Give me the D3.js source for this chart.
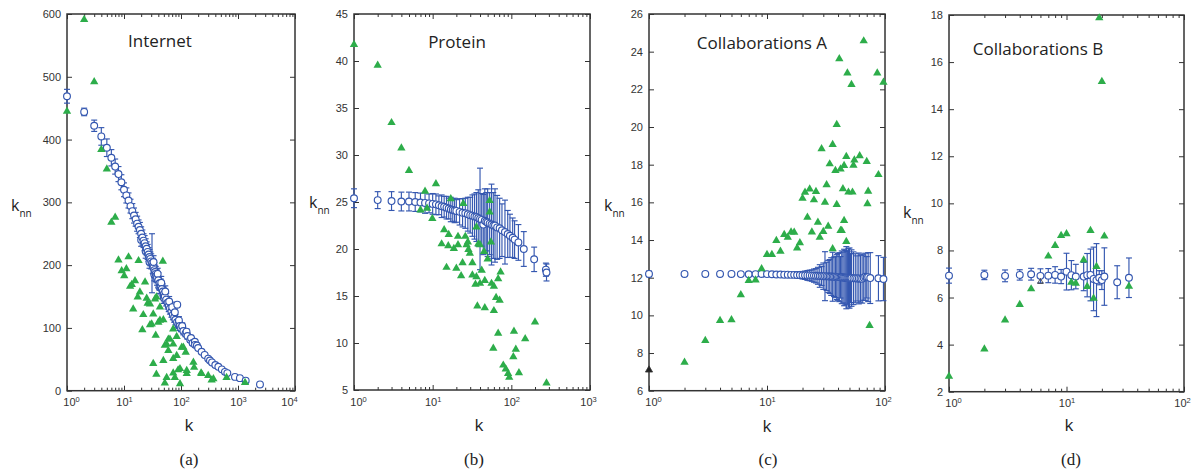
<!DOCTYPE html>
<html><head><meta charset="utf-8">
<script src="https://cdn.jsdelivr.net/npm/d3@7"></script>
<style>body{margin:0;background:#fff}svg{display:block}</style>
</head><body><svg id="c" width="1197" height="471"></svg>
<script>
// ---------- DATA ----------
// [k, knn, error]
const internetCircles = [
[1,469,11],[2,444,6],[3,422,9],[4,405,14],[5,387,14],[6,371,13],[7,357,12],[8,345,12],[9,332,12],[10,320,11],
[11,311,12],[12,303,12],[13,294,11],[14,286,12],[15,279,12],[16,273,11],[17,266,12],[18,261,11],[19,256,12],[20,250,11],
[20,240,10],[21,244,12],[22,239,11],[23,235,12],[24,230,12],[24,222,11],[25,226,11],[26,221,12],[27,217,11],[28,213,12],[28,205,10],[29,210,11],[30,206,12],
[31,203,47],[32,199,12],[33,196,11],[33,205,10],[34,192,12],[34,185,10],[35,189,11],[36,186,12],[37,183,11],[38,180,12],[39,186,9],[40,176,12],[42,171,11],[42,165,10],
[44,166,12],[45,172,10],[46,162,11],[48,158,12],[50,154,11],[50,148,9],[52,150,10],[53,158,9],[55,145,10],[58,140,10],[61,135,9],[62,142,8],[64,131,9],[68,126,9],
[70,133,8],[72,121,8],[76,117,8],[78,125,7],[80,113,8],[85,109,8],[86,137,0],[90,106,7],[92,112,6],[95,103,7],[100,100,6],[105,103,5],[110,95,6],[120,91,5],[125,94,4],[130,87,5],
[145,81,4],[150,84,4],[160,76,4],[175,78,3],[176,73,3],[190,72,3],[200,68,3],[230,62,0],[260,57,0],[300,51,0],[322,48,0],[350,45,0],[400,41,0],[452,38,0],
[520,34,0],[590,30,0],[650,28,0],[885,22,0],[1080,20,0],[1365,16,0],[2430,10,0]];
// [k, knn]
const internetTriangles = [
[1,446],[2,592],[3,493],[4,385],[5,354],[6,269],[7,277],[8,209],[9.1,192],[10.1,184],[11,195],[12,214],[12.8,167],[13.7,170],
[14.5,131],[15.6,176],[17.4,150],[18,208],[19,158],[21,98],[21.8,122],[23.4,174],[25,148],[26,140],[28.6,139],[28.6,106],
[30.6,107],[32.6,123],[32.6,44],[35,147],[36,89],[37,150],[37,27],[40,110],[42.7,134],[42.7,113],[48,207],[49,114],[49,49],
[52,73],[52,13],[56,75],[56,22],[60,83],[60,65],[64,83],[73,99],[73,75],[73,52],[73,29],[78,22],[84,87],[84,57],[89,34],
[96,36],[96,12],[103,70],[110,70],[121,62],[126,33],[126,28],[165,46],[170,38],[225,29],[230,28],[300,25],[345,18],[370,20],
[630,22],[1330,14]];

const proteinCircles = [
[1,25.4,1.0],[2,25.2,0.9],[3,25.1,1.0],[4,25.05,1.0],[5,25.05,1.0],[6,25.0,1.0],[7,24.95,1.0],[8,24.9,1.1],[9,24.85,1.0],[10,24.8,1.1],
[11,24.75,1.1],[12,24.65,1.0],[13,24.55,1.2],[14,24.5,1.1],[15,24.4,1.2],[16,24.3,1.1],[17,24.2,1.3],[18,24.15,1.2],[19,24.1,1.3],[20,24.05,1.2],
[22,23.95,1.4],[24,23.85,1.5],[26,23.8,1.6],[28,23.7,1.8],[30,23.6,1.9],[32,23.55,2.2],[34,23.45,2.4],[36,23.4,2.6],[38,23.3,3.0],[40,23.2,5.4],
[42,23.1,2.8],[44,22.6,3.2],[46,23.0,3.4],[48,22.9,3.1],[50,22.8,3.6],[53,22.7,3.3],[56,22.6,4.3],[59,22.5,3.5],[62,22.5,3.9],[66,22.3,3.4],
[71,22.2,3.2],[76,22.0,2.8],[83,21.8,3.4],[90,21.6,2.5],[96,21.4,2.3],[104,21.2,2.1],[110,21.0,2.0],[123,20.7,1.9],[144,20.0,1.85],
[195,18.9,1.3],[275,17.8,0.7],[280,17.5,0.9]];
const proteinTriangles = [
[1,41.8],[2,39.6],[3,33.5],[4,30.8],[5,28.4],[7,24.2],[8,26.2],[8.5,24.4],[9.9,23.3],[11,27.0],[13,20.6],[14,22.1],[15,18.1],
[15.8,20.4],[16,21.6],[17,25.4],[18.6,20.1],[20,18.0],[21,21.4],[21,20.5],[23,17.2],[24.5,24.9],[24,18.6],[26,21.4],[27,20.5],
[28,20.8],[28.5,20.0],[29.7,19.6],[32,17.3],[32,18.6],[35,16.3],[36,17.1],[36,22.4],[37,14.0],[38,20.6],[40,16.4],[40,20.5],
[42,17.8],[45,19.8],[46,16.7],[46,13.8],[50,19.0],[53,25.2],[53,24.0],[55,20.8],[56,16.4],[60,16.1],[60,13.5],[59,9.5],
[64,14.9],[68,16.9],[68,11.1],[71,14.6],[73,17.6],[79,7.7],[85,7.3],[91,6.8],[94,6.4],[106,8.6],[108,11.3],[114,9.4],
[125,6.9],[150,10.5],[200,12.3],[280,5.8]];

const collabACircles = [
[1,12.2,0.15],[2,12.2,0.08],[3,12.2,0.05],[4,12.2,0.05],[5,12.2,0.05],[6,12.19,0.05],[7,12.18,0.05],[8,12.19,0.05],[9,12.2,0.06],
[10,12.19,0.07],[11,12.18,0.08],[12,12.17,0.08],[13,12.17,0.1],[14,12.16,0.1],[15,12.16,0.12],[16,12.15,0.12],[17,12.15,0.14],
[18,12.14,0.15],[19,12.14,0.16],[20,12.13,0.2],[21,12.13,0.22],[22,12.12,0.26],[23,12.12,0.28],[24,12.11,0.3],[25,12.11,0.35],
[26,12.1,0.38],[27,12.1,0.45],[28,12.09,0.6],[29,12.09,0.5],[30,12.08,0.7],[31,12.08,1.3],[32,12.07,0.75],[33,12.07,0.85],
[34,12.06,0.9],[35,12.06,1.0],[36,12.05,1.3],[37,12.05,1.05],[38,12.04,1.1],[39,12.04,1.2],[40,12.03,1.25],[41,12.03,1.3],
[42,12.02,1.1],[43,12.02,1.4],[44,12.01,1.35],[45,12.01,1.5],[46,12.0,1.45],[47,12.0,1.65],[48,11.99,1.4],[49,11.99,1.55],
[50,11.98,1.6],[51,11.98,1.3],[52,11.98,1.5],[54,11.97,1.4],[56,11.97,1.3],[58,11.96,1.2],[60,11.96,1.35],[62,11.95,1.25],
[64,11.95,1.3],[66,12.0,1.2],[68,12.05,1.25],[70,12.02,1.1],[72,12.03,1.3],[75,11.98,1.35],[88,11.97,1.2],[97,11.93,1.15]];
const collabATriangles = [
[2,7.54],[3,8.69],[4,9.75],[5,9.79],[6,11.12],[7,11.88],[8,11.91],[9,12.5],[10,13.26],[11,13.26],[12,14.0],[13,13.43],
[14,14.32],[15,14.18],[16,14.45],[17,14.44],[18,13.6],[19,13.88],[20,16.25],[21,16.56],[22,15.24],[23,16.74],[24,14.45],
[25,16.16],[26,16.6],[27,14.97],[28,14.18],[29,18.87],[30,14.48],[31,16.03],[32,16.96],[33,14.76],[34,18.07],[36,19.1],
[36,13.56],[38,17.72],[39,20.16],[39,15.91],[41,23.65],[42,17.8],[42,14.53],[43,14.53],[44,16.75],[45,17.98],[45,15.06],
[47,18.46],[47,13.95],[48,22.9],[49,16.57],[52,22.28],[53,16.57],[54,18.0],[55,18.28],[61,18.5],[66,24.6],[70,18.2],
[71,15.95],[72,16.62],[74,9.49],[86,22.9],[88,17.5],[97,22.4]];
const collabABlack = [[1,7.1]];

const collabBCircles = [
[1,6.93,0.32],[2,6.96,0.2],[3,6.92,0.25],[4,6.96,0.22],[5,6.99,0.25],[6,6.92,0.3],[7,6.93,0.3],[8,6.96,0.35],[9,6.89,0.3],
[10,7.1,0.78],[11,6.95,0.62],[12,6.89,0.52],[14,6.89,0.6],[15,6.95,0.92],[16,6.96,1.1],[17,6.79,1.35],[18,6.74,1.55],
[19,6.84,0.3],[20,6.74,0.4],[21,6.89,1.22],[27,6.65,0.7],[34,6.84,0.84]];
const collabBTriangles = [
[1,2.68],[2,3.84],[3,5.07],[4,5.73],[5,6.39],[7,7.78],[8,8.23],[9,8.66],[10,8.73],[11,6.67],[12,6.63],[14,7.62],
[15,6.49],[16,8.87],[17,5.99],[18,7.34],[19,17.9],[20,15.2],[21,8.63],[34,6.5]];
const collabBBlack = [[6,6.67]];

const titles = ["Internet","Protein","Collaborations A","Collaborations B"];
const captions = ["(a)","(b)","(c)","(d)"];
const yTickSets = [d3.range(0,601,100), d3.range(5,46,5), d3.range(6,27,2), d3.range(2,19,2)];
const xDomains = [[1,1e4],[1,1e3],[1,1e2],[1,1e2]];
const yDomains = [[0,600],[5,45],[6,26],[2,18]];

// ---------- DRAW ----------
const GREEN="#2dad4a", BLUE="#3457b0", AX="#333";
const svg = d3.select("#c");

const layout = [
  {box:[67,14,295,390.7], tx:160, ty:47, yl:[11,211], xl:[189,431], cap:[189,465]},
  {box:[354,14,590,390], tx:457, ty:48, yl:[309,208], xl:[479,431], cap:[474,465]},
  {box:[649,14,885,390.7], tx:762, ty:49, yl:[604,211], xl:[767,432], cap:[768,465]},
  {box:[949,15,1184,391.7], tx:1038, ty:55, yl:[903,218], xl:[1069,431], cap:[1071,465]}
];
const circleSets=[internetCircles,proteinCircles,collabACircles,collabBCircles];
const triSets=[internetTriangles,proteinTriangles,collabATriangles,collabBTriangles];
const blackSets=[[],[],collabABlack,collabBBlack];

const tri = d3.symbol().type(d3.symbolTriangle).size(30);

layout.forEach((L,i)=>{
  const [x0,y0,x1,y1]=L.box;
  const x=d3.scaleLog().domain(xDomains[i]).range([x0,x1]);
  const y=d3.scaleLinear().domain(yDomains[i]).range([y1,y0]);
  const g=svg.append("g");
  const [d0,d1]=xDomains[i].map(v=>Math.round(Math.log10(v)));
  const majors=d3.range(d0,d1+1).map(e=>Math.pow(10,e));
  const minors=[];
  for(let e=d0;e<d1;e++) for(let m=2;m<=9;m++) minors.push(m*Math.pow(10,e));

  const styleAxis=sel=>{sel.select(".domain").remove();sel.selectAll("line").attr("stroke",AX).attr("stroke-width",1);};
  g.append("g").attr("transform",`translate(0,${y1})`).call(d3.axisBottom(x).tickValues(minors).tickSize(-3).tickFormat("")).call(styleAxis);
  g.append("g").attr("transform",`translate(0,${y0})`).call(d3.axisTop(x).tickValues(minors).tickSize(-3).tickFormat("")).call(styleAxis);
  g.append("g").attr("transform",`translate(0,${y0})`).call(d3.axisTop(x).tickValues(majors).tickSize(-5).tickFormat("")).call(styleAxis);
  const xb=g.append("g").attr("transform",`translate(0,${y1})`).call(d3.axisBottom(x).tickValues(majors).tickSize(-5).tickPadding(8).tickFormat("")).call(styleAxis);
  xb.selectAll("text").each(function(d,j){
    const t=d3.select(this).attr("fill",AX).attr("font-family","Liberation Sans, Arial, sans-serif").attr("font-size",11);
    if(j===0) t.attr("x",4);
    if(j===majors.length-1) t.attr("x",i===0?-6:-2);
    t.append("tspan").text("10");
    t.append("tspan").attr("dy",-4).attr("font-size",7.5).text(Math.round(Math.log10(d)));
  });
  const yt=yTickSets[i];
  g.append("g").attr("transform",`translate(${x0},0)`).call(d3.axisLeft(y).tickValues(yt).tickSize(-5).tickPadding(6)).call(styleAxis)
    .selectAll("text").attr("fill",AX).attr("font-family","Liberation Sans, Arial, sans-serif").attr("font-size",11);
  g.append("g").attr("transform",`translate(${x1},0)`).call(d3.axisRight(y).tickValues(yt).tickSize(-5).tickFormat("")).call(styleAxis);

  g.append("rect").attr("x",x0).attr("y",y0).attr("width",x1-x0).attr("height",y1-y0)
    .attr("fill","none").attr("stroke",AX).attr("stroke-width",1.5);

  const eb=g.append("g").attr("stroke",BLUE).attr("stroke-width",1.15).attr("fill","none");
  circleSets[i].filter(d=>d[2]>0).forEach(d=>{
    const cx=x(d[0]), ya=y(d[1]+d[2]), yb=y(d[1]-d[2]);
    eb.append("line").attr("x1",cx).attr("x2",cx).attr("y1",ya).attr("y2",yb);
    eb.append("line").attr("x1",cx-3).attr("x2",cx+3).attr("y1",ya).attr("y2",ya);
    eb.append("line").attr("x1",cx-3).attr("x2",cx+3).attr("y1",yb).attr("y2",yb);
  });
  g.append("g").selectAll("circle").data(circleSets[i]).join("circle")
    .attr("cx",d=>x(d[0])).attr("cy",d=>y(d[1])).attr("r",3.4)
    .attr("fill","#fff").attr("stroke",BLUE).attr("stroke-width",1.15);
  g.append("g").selectAll("path").data(triSets[i]).join("path")
    .attr("d",tri).attr("transform",d=>`translate(${x(d[0])},${y(d[1])+0.6})`)
    .attr("fill",GREEN);
  g.append("g").selectAll("path").data(blackSets[i]).join("path")
    .attr("d",d3.symbol().type(d3.symbolTriangle).size(i===2?22:14)).attr("transform",d=>`translate(${x(d[0])},${y(d[1])})`)
    .attr("fill",i===2?"#222":"none").attr("stroke","#333").attr("stroke-width",0.8);

  g.append("text").attr("x",L.tx).attr("y",L.ty).attr("text-anchor","middle")
    .attr("font-family","Open Sans, sans-serif").attr("font-size",17).attr("fill","#222").text(titles[i]);
  const ylab=g.append("text").attr("x",L.yl[0]).attr("y",L.yl[1]).attr("font-family","Open Sans, sans-serif").attr("fill","#222");
  ylab.append("tspan").attr("font-size",16).text("k");
  ylab.append("tspan").attr("font-size",10).attr("dy",6).text("nn");
  g.append("text").attr("x",L.xl[0]).attr("y",L.xl[1]).attr("text-anchor","middle")
    .attr("font-family","Open Sans, sans-serif").attr("font-size",17).attr("fill","#222").text("k");
  g.append("text").attr("x",L.cap[0]).attr("y",L.cap[1]).attr("text-anchor","middle")
    .attr("font-family","Liberation Serif, Times New Roman, serif").attr("font-size",17).attr("fill","#222").text(captions[i]);
});
</script></body></html>
